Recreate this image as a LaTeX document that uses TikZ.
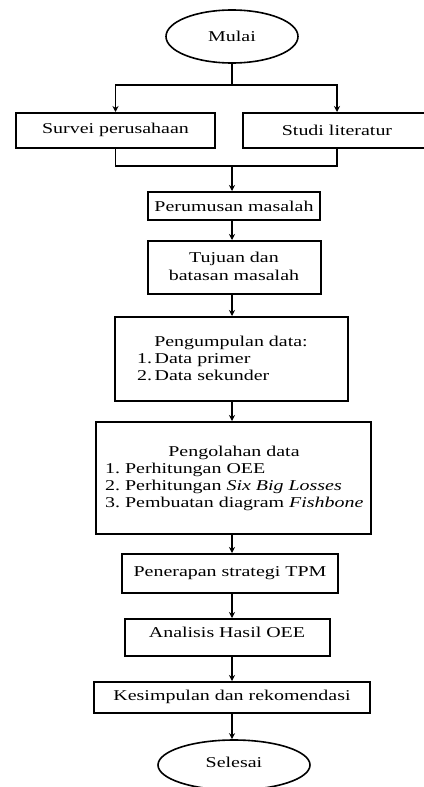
\documentclass[tikz,border=0pt]{standalone}
\usepackage{fontspec}
\setmainfont{Liberation Serif}[FakeStretch=1.33]
\usetikzlibrary{shapes.geometric,arrows.meta}
\tikzset{
  box/.style={draw, line width=2pt, rectangle, inner sep=0pt},
  term/.style={draw, line width=1.6pt, ellipse, inner sep=0pt},
  txt/.style={inner sep=0pt, font=\fontsize{15}{17}\selectfont},
  ltxt/.style={txt, anchor=base west},
  line/.style={line width=1.3pt},
  arr/.style={line width=1.3pt, -{Stealth[length=6pt,width=6pt]}},
}
\begin{document}
\begin{tikzpicture}[x=1pt,y=-1pt]
\useasboundingbox (0,0) rectangle (423,787);
\fontsize{15}{17}\selectfont
% terminals
\node[term, minimum width=132pt, minimum height=53pt] (mulai) at (232,36.5) {};
\node[txt] (mulaiT) at (232,36) {Mulai};
% parallel boxes
\node[box, minimum width=199pt, minimum height=35pt] (survei) at (115.5,130.5) {};
\node[txt] (surveiT) at (115.5,130) {Survei perusahaan};
\node[box, minimum width=188pt, minimum height=35pt] (studi) at (337,130.5) {};
\node[txt] (studiT) at (337,130) {Studi literatur};
% perumusan
\node[box, minimum width=172pt, minimum height=28pt] (perumusan) at (234,206) {};
\node[txt] (perumusanT) at (234,206) {Perumusan masalah};
% tujuan
\node[box, minimum width=173pt, minimum height=53pt] (tujuan) at (234.5,267.5) {};
\node[txt, anchor=base] (tujuanT1) at (234,262) {Tujuan dan};
\node[txt, anchor=base] (tujuanT2) at (234,280) {batasan masalah};
% pengumpulan
\node[box, minimum width=233pt, minimum height=84pt] (kumpul) at (231.5,359) {};
\node[txt, anchor=base] (kumpulT) at (231,346) {Pengumpulan data:};
\node[ltxt] (kumpul1) at (137,363) {1.\,Data primer};
\node[ltxt] (kumpul2) at (137,380) {2.\,Data sekunder};
% pengolahan
\node[box, minimum width=275pt, minimum height=112pt] (olah) at (233.5,478) {};
\node[txt, anchor=base] (olahT) at (234,456) {Pengolahan data};
\node[ltxt] (olah1) at (105,473) {1.~Perhitungan OEE};
\node[ltxt] (olah2) at (105,490) {2.~Perhitungan \textit{Six Big Losses}};
\node[ltxt] (olah3) at (105,507) {3.~Pembuatan diagram \textit{Fishbone}};
% penerapan
\node[box, minimum width=216pt, minimum height=39pt] (terap) at (230,573.5) {};
\node[txt] (terapT) at (230,573) {Penerapan strategi TPM};
% analisis
\node[box, minimum width=205pt, minimum height=37pt] (analisis) at (227.5,637.5) {};
\node[txt] (analisisT) at (227,632) {Analisis Hasil OEE};
% kesimpulan
\node[box, minimum width=276pt, minimum height=31pt] (simpul) at (232,697.5) {};
\node[txt] (simpulT) at (232,697) {Kesimpulan dan rekomendasi};
% selesai
\node[term, minimum width=152pt, minimum height=50pt] (selesai) at (234,765) {};
\node[txt] (selesaiT) at (234,762) {Selesai};

% connectors
\coordinate (split) at (232,85);
\coordinate (merge) at (232,166);
\draw[line] (mulai.south -| split) -- (split);
\draw[arr] (split) -| (survei.north);
\draw[arr] (split) -| (studi.north);
\draw[line] (survei.south) |- (merge);
\draw[line] (studi.south) |- (merge);
\draw[arr] (merge) -- (perumusan.north -| merge);
\draw[arr] (perumusan.south -| merge) -- (tujuan.north -| merge);
\draw[arr] (tujuan.south -| merge) -- (kumpul.north -| merge);
\draw[arr] (kumpul.south -| merge) -- (olah.north -| merge);
\draw[arr] (olah.south -| merge) -- (terap.north -| merge);
\draw[arr] (terap.south -| merge) -- (analisis.north -| merge);
\draw[arr] (analisis.south -| merge) -- (simpul.north -| merge);
\draw[arr] (simpul.south -| merge) -- (selesai.north -| merge);
\end{tikzpicture}
\end{document}
